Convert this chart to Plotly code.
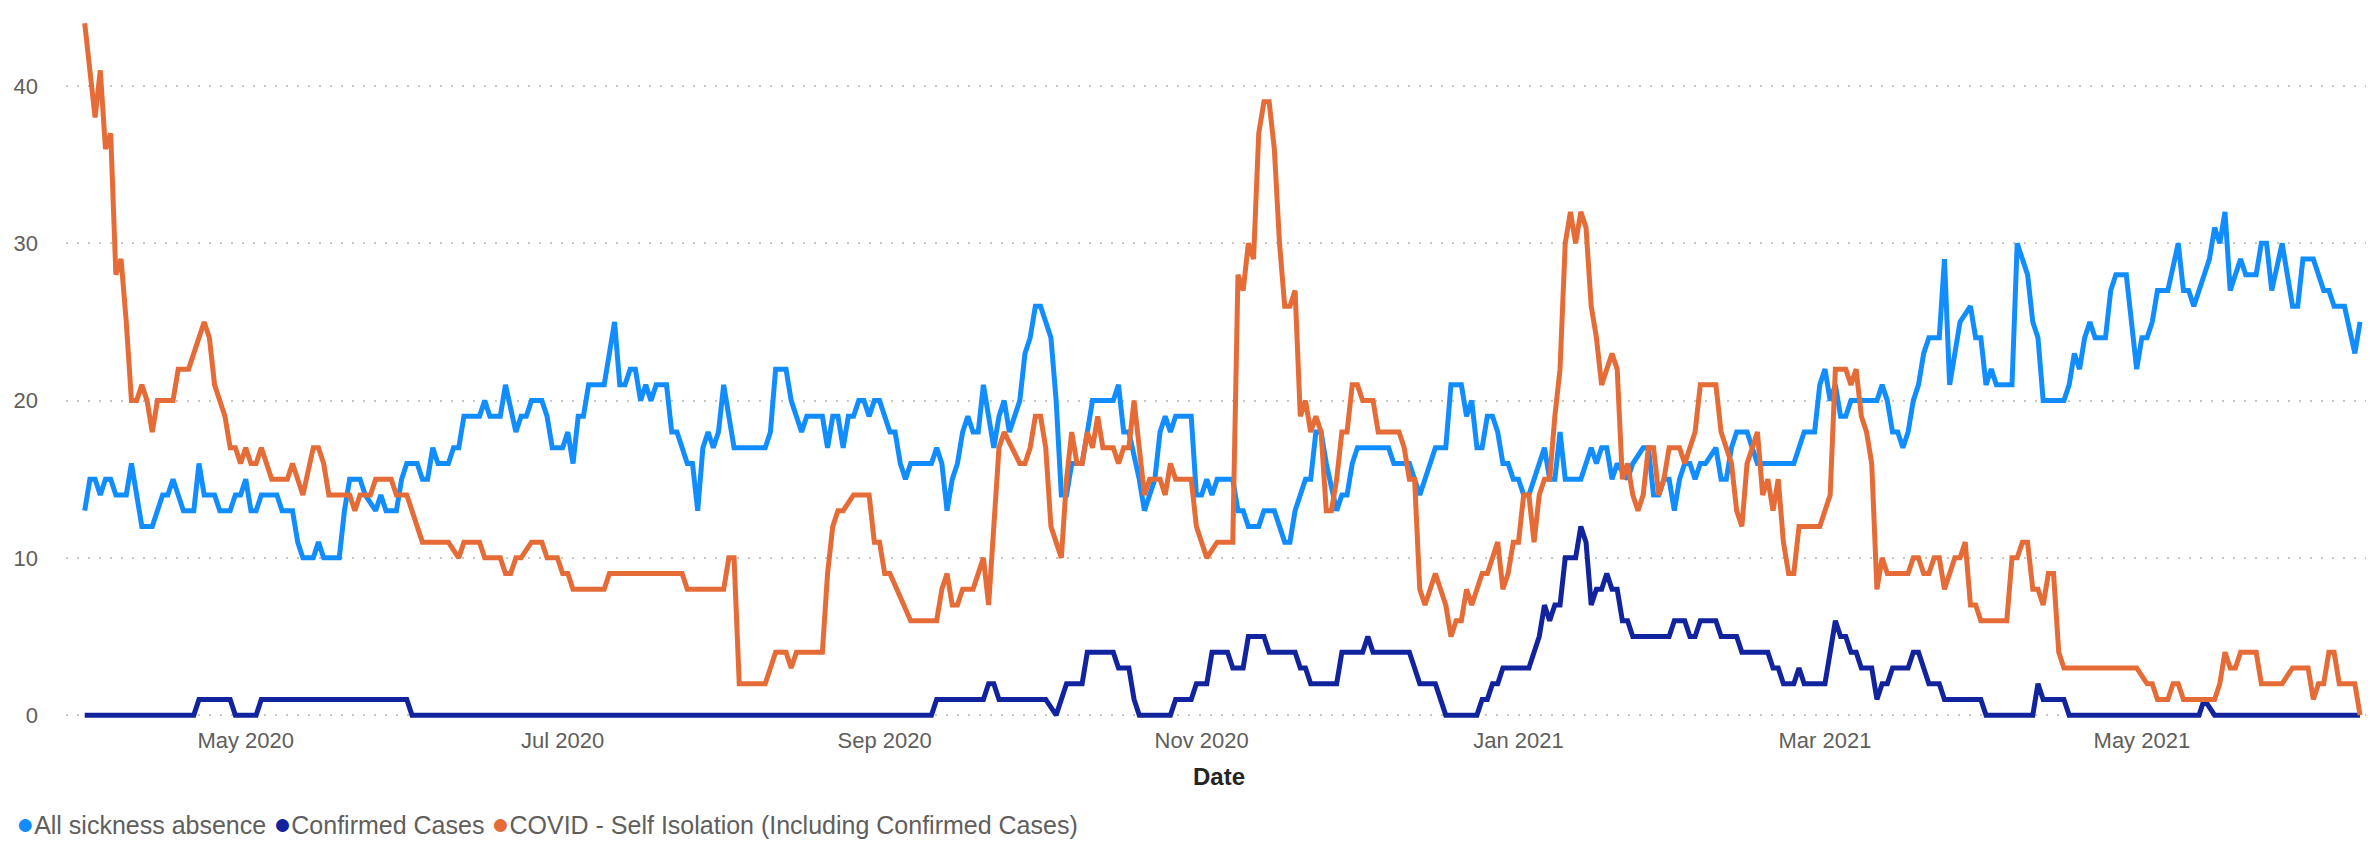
import pandas as pd
import plotly.graph_objects as go

# ---------------- data ----------------
start_date = "2020-03-31"   # day 0 of the series

# All sickness absence (day offset, value)
absence_days = [0,1,2,3,4,5,6,8,9,11,13,15,16,17,19,21,22,23,25,26,28,29,30,31,32,33,34,37,38,40,41,42,44,45,46,49,
                50,51,53,54,56,57,58,60,61,62,64,65,66,67,68,70,71,72,73,76,77,78,80,81,83,84,85,86,88,89,90,92,93,94,95,96,97,
                100,102,103,104,105,106,107,108,109,110,112,113,114,116,117,118,119,120,121,122,123,125,130,131,132,133,135,136,138,139,
                142,143,144,145,146,147,148,149,150,151,152,153,155,156,157,158,159,162,163,164,165,166,167,168,169,170,171,172,173,174,175,176,177,178,
                180,181,182,183,184,186,187,188,189,190,192,193,194,198,199,200,201,203,204,206,207,208,209,210,213,214,215,216,217,218,
                221,222,223,224,226,227,229,231,232,233,235,236,237,238,239,241,242,243,244,245,251,252,253,255,257,260,262,263,265,266,267,268,269,
                270,271,272,273,274,275,276,277,278,281,282,283,284,285,288,289,290,291,292,293,294,295,297,298,300,301,302,303,304,305,306,307,308,309,
                310,311,312,314,315,316,317,318,320,321,322,329,330,331,333,334,335,336,337,338,339,340,345,346,347,348,349,350,351,352,353,354,355,357,358,359,
                361,363,364,365,366,367,368,371,372,374,375,376,377,381,382,383,384,385,386,387,389,390,391,393,395,396,397,398,399,
                401,403,404,405,406,409,410,411,412,413,415,416,418,419,420,421,423,425,426,427,429,431,432,433,435,437,438]
absence_vals = [13,15,15,14,15,15,14,14,16,12,12,14,14,15,13,13,16,14,14,13,13,14,14,15,13,13,14,14,13,13,11,10,10,11,10,10,
                13,15,15,14,13,14,13,13,15,16,16,15,15,17,16,16,17,17,19,19,20,19,19,21,18,19,19,20,20,19,17,17,18,16,19,19,21,
                21,25,21,21,22,22,20,21,20,21,21,18,18,16,16,13,17,18,17,18,21,17,17,17,18,22,22,20,18,19,
                19,17,19,19,17,19,19,20,20,19,20,20,18,18,16,15,16,16,16,17,16,13,15,16,18,19,18,18,21,19,17,19,20,18,
                20,23,24,26,26,24,20,14,14,16,16,18,20,20,21,18,18,15,13,15,18,19,18,19,19,14,14,15,14,15,
                15,13,13,12,12,13,13,11,11,13,15,15,18,18,16,13,14,14,16,17,17,16,16,16,14,17,17,21,21,19,20,17,17,
                19,19,18,16,16,15,15,14,14,17,15,15,18,15,15,16,17,16,17,17,15,16,15,16,17,17,14,14,15,15,13,15,16,16,
                15,16,16,17,15,15,17,18,18,17,16,16,17,18,18,21,22,20,21,19,19,20,20,21,20,18,18,17,18,20,21,23,24,24,29,21,
                25,26,24,24,21,22,21,21,30,28,25,24,20,20,21,23,22,24,25,24,24,27,28,28,22,24,24,25,27,
                27,30,27,27,26,29,31,30,32,27,29,28,28,30,30,27,30,26,26,29,29,27,27,26,26,23,25]

# Confirmed Cases (day offset, value)
confirmed_days = [0,21,22,28,29,33,34,62,63,163,164,173,174,175,176,185,187,189,192,193,198,199,201,202,203,209,210,213,214,216,217,
                  220,221,223,224,227,228,233,234,235,236,241,242,246,247,248,255,257,260,262,268,269,270,271,272,273,278,
                  280,281,282,283,284,285,287,288,289,290,291,292,293,294,295,296,297,298,305,306,308,309,310,311,314,315,318,319,
                  324,325,326,327,329,330,331,335,337,338,339,340,341,342,344,345,346,347,348,351,352,353,355,357,358,365,366,
                  375,376,377,381,382,407,408,410,438]
confirmed_vals = [0,0,1,1,0,0,1,1,0,0,1,1,2,2,1,1,0,2,2,4,4,3,3,1,0,0,1,1,2,2,4,
                  4,3,3,5,5,4,4,3,3,2,2,4,4,5,4,4,2,2,0,0,1,1,2,2,3,3,
                  5,7,6,7,7,10,10,12,11,7,8,8,9,8,8,6,6,5,5,6,6,5,5,6,6,5,5,4,
                  4,3,3,2,2,3,2,2,6,5,5,4,4,3,3,1,2,2,3,3,4,4,2,2,1,1,0,
                  0,2,1,1,0,0,1,0,0]

# COVID - Self Isolation (Including Confirmed Cases) (day offset, value)
isolation_days = [0,2,3,4,5,6,7,8,9,10,11,12,13,14,17,18,20,23,24,25,27,28,29,30,31,32,33,34,36,39,40,42,44,45,46,47,
                  51,52,53,55,56,59,60,62,65,70,72,73,76,77,80,81,82,83,84,86,88,89,91,92,93,94,100,101,115,116,123,124,125,126,
                  131,133,135,136,137,142,143,144,145,146,148,151,152,153,154,155,159,164,165,166,167,168,169,171,173,174,176,177,
                  180,181,182,183,184,185,186,188,189,190,191,192,193,194,195,196,198,199,200,201,202,204,205,207,208,209,210,213,214,216,218,
                  221,222,223,224,225,226,227,228,229,230,231,232,233,234,235,236,237,238,239,240,241,242,243,244,245,246,248,249,
                  253,254,255,256,257,258,260,262,263,264,265,266,267,269,270,272,273,274,275,276,277,278,279,280,281,282,283,284,
                  285,286,287,288,289,290,291,292,294,295,296,297,298,299,300,301,302,303,304,305,306,307,308,310,311,314,315,317,318,319,
                  320,322,323,324,325,326,327,328,329,330,334,336,337,339,340,341,342,343,344,345,346,347,351,352,353,354,355,356,357,358,
                  360,361,362,363,364,365,370,371,372,373,374,375,376,377,378,379,380,381,395,397,398,399,401,402,403,404,
                  410,411,412,413,414,415,418,419,423,425,428,429,430,431,432,433,434,437,438]
isolation_vals = [44,38,41,36,37,28,29,25,20,20,21,20,18,20,20,22,22,25,24,21,19,17,17,16,17,16,16,17,15,15,16,14,17,17,16,14,
                  14,13,14,14,15,15,14,14,11,11,10,11,11,10,10,9,9,10,10,11,11,10,10,9,9,8,8,9,9,8,8,10,10,2,
                  2,4,4,3,4,4,9,12,13,13,14,14,11,11,9,9,6,6,8,9,7,7,8,8,10,7,17,18,
                  16,16,17,19,19,17,12,10,15,18,16,16,18,17,19,17,17,16,17,17,20,14,15,15,14,16,15,15,12,10,11,
                  11,28,27,30,29,37,39,39,36,30,26,26,27,19,20,18,19,18,13,13,15,18,18,21,21,20,20,18,
                  18,17,15,15,8,7,9,7,5,6,6,8,7,9,9,11,8,9,11,11,14,14,11,14,15,15,19,22,
                  30,32,30,32,31,26,24,21,23,22,15,16,14,13,14,17,17,14,15,17,17,17,16,18,21,21,18,16,13,12,
                  16,18,14,15,13,15,11,9,9,12,12,14,22,22,21,22,19,18,16,8,10,9,9,10,10,9,9,10,10,8,
                  10,10,11,7,7,6,6,10,10,11,11,8,8,7,9,9,4,3,3,2,2,1,1,2,2,1,
                  1,2,4,3,3,4,4,2,2,3,3,1,2,2,4,4,2,2,0]

series_names = ["All sickness absence", "Confirmed Cases",
                "COVID - Self Isolation (Including Confirmed Cases)"]
series_colors = ["#118DFF", "#12239E", "#E66C37"]

x_tick_vals = ["2020-05-01", "2020-07-01", "2020-09-01", "2020-11-01", "2021-01-01", "2021-03-01", "2021-05-01"]
x_tick_text = ["May 2020", "Jul 2020", "Sep 2020", "Nov 2020", "Jan 2021", "Mar 2021", "May 2021"]
y_tick_vals = [0, 10, 20, 30, 40]
x_title = "Date"

# ---------------- figure ----------------
t0 = pd.Timestamp(start_date)


def to_dates(days):
    return t0 + pd.to_timedelta(days, unit="D")


series = [(absence_days, absence_vals), (confirmed_days, confirmed_vals), (isolation_days, isolation_vals)]

FONT = "Segoe UI, Liberation Sans, Arial, sans-serif"
GREY = "#605E5C"

fig = go.Figure()
for (d, v), name, col in zip(series, series_names, series_colors):
    fig.add_trace(go.Scatter(
        x=to_dates(d), y=v, mode="lines", name=name,
        line=dict(color=col, width=5), showlegend=False,
    ))

x_lo = t0 - pd.Timedelta(hours=3.6 * 24)
x_hi = t0 + pd.Timedelta(hours=440.3 * 24)

fig.update_layout(
    width=2374, height=842,
    margin=dict(l=58, r=10, t=1, b=127),
    paper_bgcolor="white", plot_bgcolor="white",
    font=dict(family=FONT, color=GREY),
    showlegend=False,
    xaxis=dict(
        type="date", range=[x_lo, x_hi],
        tickvals=x_tick_vals, ticktext=x_tick_text,
        showgrid=False, zeroline=False, showline=False, ticks="",
        tickfont=dict(size=22, color=GREY, family=FONT),
        ticklabelstandoff=2,
        title=dict(text=x_title, font=dict(size=24, color="#252423", family=FONT, weight="bold"), standoff=16),
    ),
    yaxis=dict(
        range=[-0.5, 44.9], tickvals=y_tick_vals,
        showgrid=True, gridcolor="#C8C6C4", gridwidth=1.5, griddash="2px,9px",
        zeroline=False, showline=False, ticks="",
        tickfont=dict(size=22, color=GREY, family=FONT),
        ticklabelstandoff=27,
    ),
)

legend_html = "&nbsp;".join(
    f'<span style="color:{c};font-size:30px">●</span>{n}' for n, c in zip(series_names, series_colors)
)
fig.add_annotation(
    x=(6 - 58) / 2306, y=-(815 - 714.7) / 713.7, xref="paper", yref="paper",
    xanchor="left", yanchor="middle", showarrow=False, align="left",
    text=legend_html, font=dict(size=25, color=GREY, family=FONT),
)

fig.write_html("out.html")
